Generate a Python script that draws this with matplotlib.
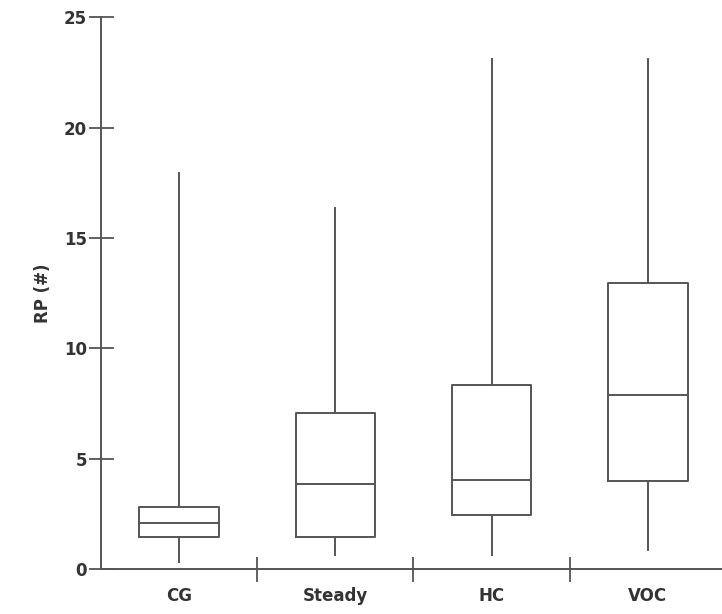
import matplotlib.pyplot as plt

groups = ["CG", "Steady", "HC", "VOC"]
whislo = [0.32, 0.62, 0.62, 0.85]
q1 = [1.43, 1.43, 2.45, 4.0]
med = [2.09, 3.85, 4.04, 7.9]
q3 = [2.81, 7.05, 8.34, 12.97]
whishi = [17.93, 16.36, 23.1, 23.1]

stats = []
for name, lo, a, m, b, hi in zip(groups, whislo, q1, med, q3, whishi):
    stats.append({"label": name, "whislo": lo, "q1": a, "med": m, "q3": b, "whishi": hi})

plt.rcParams['font.family'] = ['DejaVu Sans']
line_col = '#555555'
text_col = '#333333'

fig = plt.figure(figsize=(7.22, 6.14), dpi=100)
ax = fig.add_axes([0.14, 0.0733, 0.86, 0.8987])

lp = dict(color=line_col, linewidth=1.4)
ax.bxp(stats, positions=[1, 2, 3, 4], widths=0.51, showfliers=False, showcaps=False,
       boxprops=lp, whiskerprops=lp, medianprops=lp, capprops=lp)

ax.set_xlim(0.5, 4.475)
ax.set_ylim(0, 25)
ax.set_yticks([0, 5, 10, 15, 20, 25])

# group separators on the x axis, labels between them
ax.set_xticks([1.5, 2.5, 3.5])
ax.set_xticklabels([])
ax.set_xticks([1, 2, 3, 4], minor=True)
ax.set_xticklabels(groups, minor=True)
ax.tick_params(axis='x', which='major', direction='inout', length=18, width=1.3, color=line_col)
ax.tick_params(axis='x', which='minor', length=0, pad=13)
ax.tick_params(axis='y', direction='inout', length=18, width=1.3, color=line_col, pad=1)

for lab in ax.get_xticklabels(minor=True) + ax.get_yticklabels():
    lab.set_fontsize(12)
    lab.set_fontweight('bold')
    lab.set_color(text_col)

ax.set_ylabel("RP (#)", fontsize=12, fontweight='bold', color=text_col, labelpad=9)

for s in ['top', 'right']:
    ax.spines[s].set_visible(False)
for s in ['left', 'bottom']:
    ax.spines[s].set_color(line_col)
    ax.spines[s].set_linewidth(1.4)

fig.savefig("out.png", dpi=100)
